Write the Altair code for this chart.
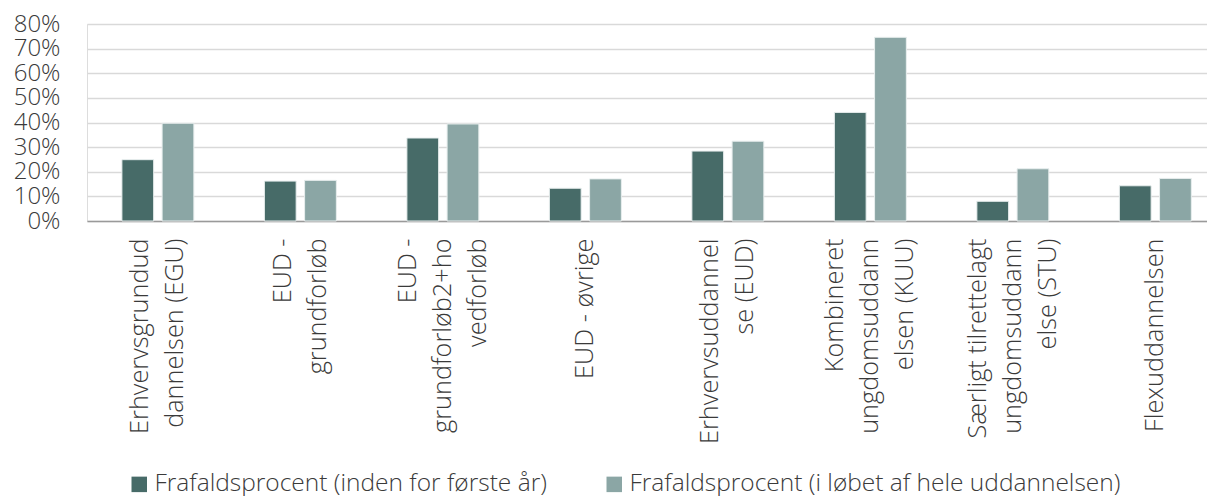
import altair as alt
import pandas as pd

categories = [
    "Erhvervsgrundud|dannelsen (EGU)",
    "EUD -|grundforløb",
    "EUD -|grundforløb2+ho|vedforløb",
    "EUD - øvrige",
    "Erhvervsuddannel|se (EUD)",
    "Kombineret|ungdomsuddann|elsen (KUU)",
    "Særligt tilrettelagt|ungdomsuddann|else (STU)",
    "Flexuddannelsen",
]
series = [
    "Frafaldsprocent (inden for første år)",
    "Frafaldsprocent (i løbet af hele uddannelsen)",
]
first_year = [0.249, 0.162, 0.337, 0.133, 0.284, 0.441, 0.080, 0.143]
whole_edu = [0.397, 0.165, 0.394, 0.171, 0.324, 0.746, 0.212, 0.173]
y_ticks = [0, 0.1, 0.2, 0.3, 0.4, 0.5, 0.6, 0.7, 0.8]
colors = ["#476B68", "#8BA6A5"]

rows = []
for c, a, b in zip(categories, first_year, whole_edu):
    rows.append({"cat": c, "series": series[0], "value": a})
    rows.append({"cat": c, "series": series[1], "value": b})
df = pd.DataFrame(rows)

FONT = "Open Sans"
TXT = "#3A3A3A"
LH = 35

chart = alt.Chart(df).mark_bar(stroke="#E8EEEE", strokeWidth=1).encode(
    x=alt.X(
        "cat:N",
        sort=categories,
        title=None,
        scale=alt.Scale(paddingInner=0.495, paddingOuter=0.1775, align=0.69),
        axis=alt.Axis(
            labelExpr="split(datum.label, '|')",
            labelAngle=-90,
            labelAlign="right",
            labelBaseline="middle",
            labelPadding=17,
            labelOffset=alt.ExprRef(
                f"-(length(split(datum.label, '|')) - 1) * {LH / 2}"
            ),
            labelFontSize=25.3,
            labelLineHeight=LH,
            labelFont=FONT,
            labelFontWeight=300,
            labelColor=TXT,
            labelLimit=400,
            ticks=False,
            domainColor="#9A9A9A",
            domainWidth=1.5,
            grid=False,
        ),
    ),
    xOffset=alt.XOffset(
        "series:N", sort=series, scale=alt.Scale(paddingInner=0.21, paddingOuter=0)
    ),
    y=alt.Y(
        "value:Q",
        title=None,
        scale=alt.Scale(domain=[0, 0.8], nice=False),
        axis=alt.Axis(
            values=y_ticks,
            format=".0%",
            labelFontSize=24,
            labelFont=FONT,
            labelFontWeight=300,
            labelColor=TXT,
            labelPadding=27,
            ticks=False,
            domain=False,
            gridColor="#D9D9D9",
            gridWidth=1.5,
        ),
    ),
    color=alt.Color(
        "series:N",
        sort=series,
        scale=alt.Scale(domain=series, range=colors),
        legend=alt.Legend(
            title=None,
            orient="none",
            direction="horizontal",
            legendX=40,
            legendY=448,
            symbolType="square",
            symbolSize=240,
            symbolStrokeWidth=0,
            labelFontSize=24.5,
            labelFont=FONT,
            labelFontWeight=300,
            labelColor=TXT,
            labelLimit=700,
            columnPadding=55,
            labelOffset=3,
        ),
    ),
).properties(
    width=1120,
    height=197,
    padding={"left": 5, "top": 4, "right": 0, "bottom": 2},
).configure_view(stroke=None).configure(background="white")

chart.save("out.html", embed_options={"renderer": "svg", "actions": False})
